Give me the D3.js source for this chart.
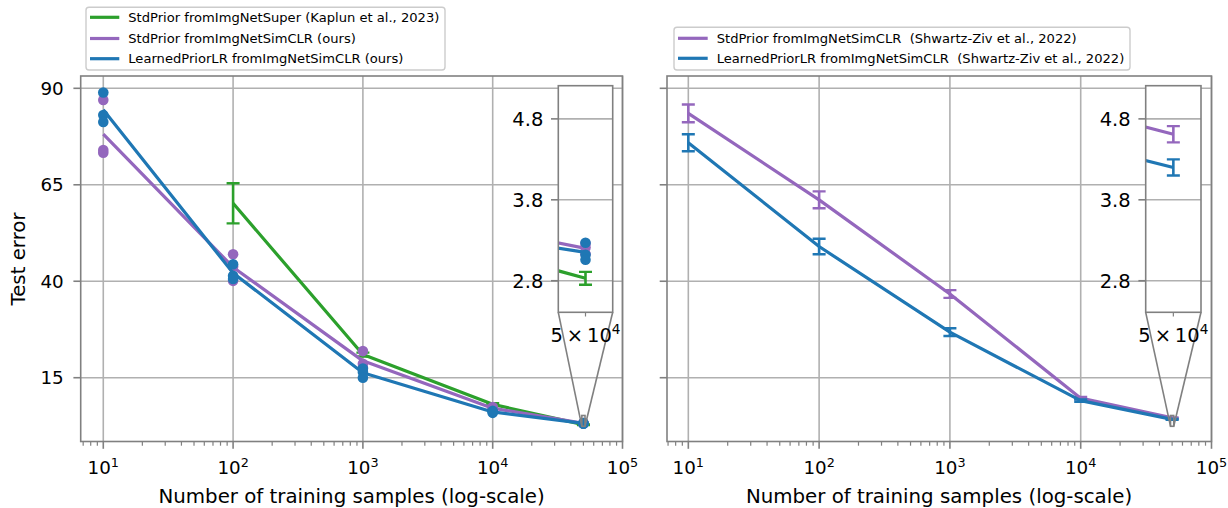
<!DOCTYPE html>
<html><head><meta charset="utf-8">
<script src="https://cdn.jsdelivr.net/npm/d3@7"></script>
<style>
body{margin:0;background:#fff;}
svg{font-family:"DejaVu Sans",sans-serif;}
</style></head><body>
<svg id="c" width="1228" height="508"></svg>
<script>
// ---------------- data ----------------
const xValues = [10, 100, 1000, 10000, 50000];
// left panel
const greenX = [100, 1000, 10000, 50000];
const greenMean = [60.2, 21.0, 8.1, 2.83];
const greenErr = [5.2, 0.5, 0.3, 0.08];
const purpleSeedsL = [[87.0, 74.0, 73.3], [47.0, 43.8, 40.1], [21.9, 18.6, 17.6], [7.4, 7.1, 6.8], [3.26, 3.21, 3.13]];
const blueSeedsL = [[88.9, 83.1, 81.3], [44.4, 41.4, 40.6], [17.4, 16.5, 15.0], [6.4, 6.1, 5.9], [3.27, 3.12, 3.06]];
// right panel
const purpleMeanR = [83.5, 61.1, 36.7, 9.7, 4.61];
const purpleErrR = [2.3, 2.2, 1.0, 0.3, 0.1];
const blueMeanR = [75.9, 49.0, 26.8, 9.05, 4.20];
const blueErrR = [2.2, 2.0, 1.0, 0.3, 0.1];
// ticks and labels
const yTicks = [15, 40, 65, 90];
const insetYTicks = [2.8, 3.8, 4.8];
const xTickExps = [1, 2, 3, 4, 5];
const insetXTick = 50000;
const legendLeft = ["StdPrior fromImgNetSuper (Kaplun et al., 2023)", "StdPrior fromImgNetSimCLR (ours)", "LearnedPriorLR fromImgNetSimCLR (ours)"];
const legendRight = ["StdPrior fromImgNetSimCLR  (Shwartz-Ziv et al., 2022)", "LearnedPriorLR fromImgNetSimCLR  (Shwartz-Ziv et al., 2022)"];
const xLabel = "Number of training samples (log-scale)";
const yLabel = "Test error";

const GREEN = "#2ca02c", PURPLE = "#9467bd", BLUE = "#1f77b4";
const SPINE = "#808080", GRID = "#b0b0b0";

const svg = d3.select("#c");
const mean = a => d3.mean(a);

const yMain = d3.scaleLinear().domain([-1.53, 93.19]).range([441.5, 76]);
const yIns = d3.scaleLinear().domain([2.41, 5.21]).range([312.3, 85.7]);
const insDom = [insetXTick / Math.pow(10, 0.0122), insetXTick * Math.pow(10, 0.0122)];

const panels = [
  {x0: 80.7, x1: 622.5, xd0: Math.pow(10, 0.826), ix0: 558.3, ix1: 612.7, showY: true, lx: 351.6},
  {x0: 667, x1: 1211.5, xd0: Math.pow(10, 0.837), ix0: 1145.7, ix1: 1201, showY: false, lx: 939}
];

function seriesLeft() {
  return [
    {color: GREEN, xs: greenX, m: greenMean, err: greenErr, seeds: null},
    {color: PURPLE, xs: xValues, m: purpleSeedsL.map(mean), err: null, seeds: purpleSeedsL},
    {color: BLUE, xs: xValues, m: blueSeedsL.map(mean), err: null, seeds: blueSeedsL}
  ];
}
function seriesRight() {
  return [
    {color: PURPLE, xs: xValues, m: purpleMeanR, err: purpleErrR, seeds: null},
    {color: BLUE, xs: xValues, m: blueMeanR, err: blueErrR, seeds: null}
  ];
}

function drawSeries(g, series, xs, ys, capW) {
  series.forEach(s => {
    const pts = s.xs.map((x, i) => [x, s.m[i]]);
    g.append("path").attr("d", d3.line().x(d => xs(d[0])).y(d => ys(d[1]))(pts))
      .attr("fill", "none").attr("stroke", s.color).attr("stroke-width", 3.2)
      .attr("stroke-linejoin", "round");
    if (s.err) {
      s.xs.forEach((x, i) => {
        const cx = xs(x), ya = ys(s.m[i] - s.err[i]), yb = ys(s.m[i] + s.err[i]);
        g.append("line").attr("x1", cx).attr("x2", cx).attr("y1", ya).attr("y2", yb)
          .attr("stroke", s.color).attr("stroke-width", 2.6);
        [ya, yb].forEach(yy => g.append("line").attr("x1", cx - capW / 2).attr("x2", cx + capW / 2)
          .attr("y1", yy).attr("y2", yy).attr("stroke", s.color).attr("stroke-width", 2.4));
      });
    }
    if (s.seeds) {
      s.xs.forEach((x, i) => s.seeds[i].forEach(v =>
        g.append("circle").attr("cx", xs(x)).attr("cy", ys(v)).attr("r", 5.3).attr("fill", s.color)));
    }
  });
}

panels.forEach((p, pi) => {
  const xs = d3.scaleLog().domain([p.xd0, 1e5]).range([p.x0, p.x1]);
  const g = svg.append("g");
  const clipId = "clipMain" + pi;
  svg.append("clipPath").attr("id", clipId).append("rect")
    .attr("x", p.x0).attr("y", 76).attr("width", p.x1 - p.x0).attr("height", 441.5 - 76);
  // grid
  xTickExps.forEach(e => {
    const x = xs(Math.pow(10, e));
    g.append("line").attr("x1", x).attr("x2", x).attr("y1", 76).attr("y2", 441.5)
      .attr("stroke", GRID).attr("stroke-width", 1.6);
  });
  yTicks.forEach(v => g.append("line").attr("x1", p.x0).attr("x2", p.x1)
    .attr("y1", yMain(v)).attr("y2", yMain(v)).attr("stroke", GRID).attr("stroke-width", 1.6));
  // data
  const dg = g.append("g").attr("clip-path", `url(#${clipId})`);
  const series = pi === 0 ? seriesLeft() : seriesRight();
  drawSeries(dg, series, xs, yMain, 13);
  // spines
  g.append("rect").attr("x", p.x0).attr("y", 76).attr("width", p.x1 - p.x0).attr("height", 441.5 - 76)
    .attr("fill", "none").attr("stroke", SPINE).attr("stroke-width", 1.6);
  // x ticks major + minor
  for (let e = 0; e <= 4; e++) {
    for (let k = 1; k <= 9; k++) {
      const v = k * Math.pow(10, e);
      if (v < p.xd0 || v > 1e5) continue;
      const x = xs(v);
      const len = k === 1 ? 7.3 : 4.2;
      g.append("line").attr("x1", x).attr("x2", x).attr("y1", 441.5).attr("y2", 441.5 + len)
        .attr("stroke", SPINE).attr("stroke-width", k === 1 ? 1.6 : 1.2);
    }
  }
  {
    const x = xs(1e5);
    g.append("line").attr("x1", x).attr("x2", x).attr("y1", 441.5).attr("y2", 448.8)
      .attr("stroke", SPINE).attr("stroke-width", 1.6);
  }
  xTickExps.forEach(e => {
    const t = g.append("text").attr("x", xs(Math.pow(10, e))).attr("y", 474)
      .attr("text-anchor", "middle").attr("font-size", 18.3).attr("fill", "#000");
    t.append("tspan").text("10");
    t.append("tspan").attr("font-size", 12.8).attr("dy", -7.5).text(String(e));
  });
  // y ticks
  yTicks.forEach(v => {
    g.append("line").attr("x1", p.x0 - 7.3).attr("x2", p.x0).attr("y1", yMain(v)).attr("y2", yMain(v))
      .attr("stroke", SPINE).attr("stroke-width", 1.6);
    if (p.showY) g.append("text").attr("x", p.x0 - 17).attr("y", yMain(v) + 6.5)
      .attr("text-anchor", "end").attr("font-size", 18.3).attr("fill", "#000").text(v);
  });
  // axis labels
  g.append("text").attr("x", p.lx).attr("y", 503).attr("text-anchor", "middle")
    .attr("font-size", 19.8).attr("fill", "#000").text(xLabel);
  if (p.showY) g.append("text").attr("transform", "translate(25,259) rotate(-90)")
    .attr("text-anchor", "middle").attr("font-size", 19.8).attr("fill", "#000").text(yLabel);

  // ---- inset ----
  const ixs = d3.scaleLog().domain(insDom).range([p.ix0, p.ix1]);
  const rx0 = xs(insDom[0]), rx1 = xs(insDom[1]), ry0 = yMain(yIns.domain()[1]), ry1 = yMain(yIns.domain()[0]);
  const ig = svg.append("g");
  ig.append("rect").attr("x", rx0).attr("y", ry0).attr("width", rx1 - rx0).attr("height", ry1 - ry0)
    .attr("fill", "none").attr("stroke", SPINE).attr("stroke-width", 1.6);
  ig.append("line").attr("x1", p.ix0).attr("y1", 312.3).attr("x2", rx0).attr("y2", ry1)
    .attr("stroke", SPINE).attr("stroke-width", 1.6);
  ig.append("line").attr("x1", p.ix1).attr("y1", 312.3).attr("x2", rx1).attr("y2", ry1)
    .attr("stroke", SPINE).attr("stroke-width", 1.6);
  ig.append("rect").attr("x", p.ix0).attr("y", 85.7).attr("width", p.ix1 - p.ix0).attr("height", 312.3 - 85.7)
    .attr("fill", "#fff");
  insetYTicks.forEach(v => ig.append("line").attr("x1", p.ix0).attr("x2", p.ix1)
    .attr("y1", yIns(v)).attr("y2", yIns(v)).attr("stroke", GRID).attr("stroke-width", 1.6));
  const iclip = "clipIns" + pi;
  svg.append("clipPath").attr("id", iclip).append("rect")
    .attr("x", p.ix0).attr("y", 85.7).attr("width", p.ix1 - p.ix0).attr("height", 312.3 - 85.7);
  const idg = ig.append("g").attr("clip-path", `url(#${iclip})`);
  drawSeries(idg, series, ixs, yIns, 13);
  ig.append("rect").attr("x", p.ix0).attr("y", 85.7).attr("width", p.ix1 - p.ix0).attr("height", 312.3 - 85.7)
    .attr("fill", "none").attr("stroke", SPINE).attr("stroke-width", 1.6);
  insetYTicks.forEach(v => {
    ig.append("line").attr("x1", p.ix0 - 7.3).attr("x2", p.ix0).attr("y1", yIns(v)).attr("y2", yIns(v))
      .attr("stroke", SPINE).attr("stroke-width", 1.6);
    ig.append("text").attr("x", p.ix0 - 15).attr("y", yIns(v) + 7).attr("text-anchor", "end")
      .attr("font-size", 19.5).attr("fill", "#000").text(d3.format(".1f")(v));
  });
  {
    const x = ixs(insetXTick);
    ig.append("line").attr("x1", x).attr("x2", x).attr("y1", 312.3).attr("y2", 316.5)
      .attr("stroke", SPINE).attr("stroke-width", 1.2);
    const t = ig.append("text").attr("x", x).attr("y", 341.5).attr("text-anchor", "middle")
      .attr("font-size", 19.5).attr("fill", "#000");
    t.append("tspan").text("5\u2009\u00d7\u200910");
    t.append("tspan").attr("font-size", 13.6).attr("dy", -8).text("4");
  }
});

// ---- legends ----
function legend(x, y, w, h, items, colors, rowY, hx0, hx1, tx) {
  const g = svg.append("g");
  g.append("rect").attr("x", x).attr("y", y).attr("width", w).attr("height", h).attr("rx", 3)
    .attr("fill", "#fff").attr("fill-opacity", 0.85).attr("stroke", "#cccccc").attr("stroke-width", 1.4);
  items.forEach((s, i) => {
    g.append("line").attr("x1", hx0).attr("x2", hx1).attr("y1", rowY[i]).attr("y2", rowY[i])
      .attr("stroke", colors[i]).attr("stroke-width", 3.2);
    g.append("text").attr("x", tx).attr("y", rowY[i] + 4.7).attr("font-size", 13.1)
      .attr("fill", "#000").style("white-space", "pre").text(s);
  });
}
legend(86, 7.3, 359, 62.7, legendLeft, [GREEN, PURPLE, BLUE], [17.3, 38.5, 58.7], 90, 119.3, 128.3);
legend(674, 27.3, 456, 42.7, legendRight, [PURPLE, BLUE], [38.3, 58.3], 678, 707.7, 716.7);
</script>
</body></html>
